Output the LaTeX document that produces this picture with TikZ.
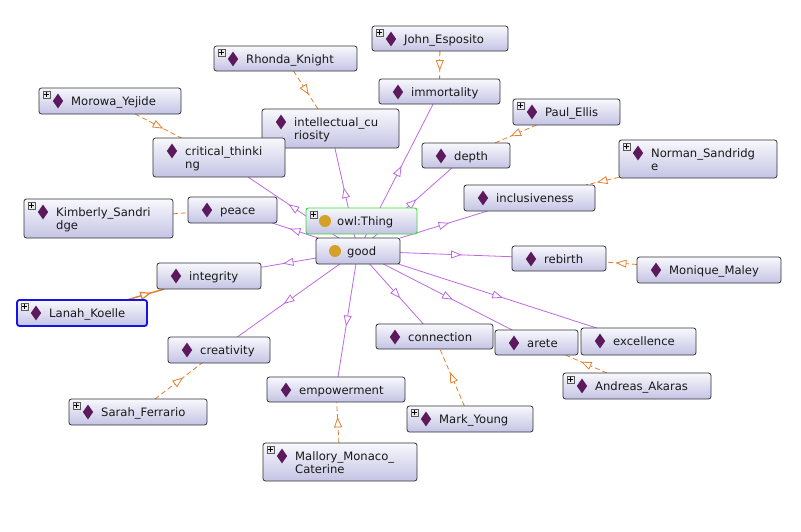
\documentclass[tikz,border=0pt]{standalone}
\usepackage{fontspec}
\setmainfont{DejaVu Sans}
\usetikzlibrary{shapes.geometric,decorations.markings}
\pgfdeclarelayer{bg}
\pgfdeclarelayer{edges}
\pgfsetlayers{bg,edges,main}
\definecolor{pcol}{RGB}{190,105,228}
\definecolor{ocol}{RGB}{230,128,48}
\definecolor{boxtop}{RGB}{248,248,253}
\definecolor{boxbot}{RGB}{196,196,228}
\definecolor{boxborder}{RGB}{50,50,55}
\definecolor{diamcol}{RGB}{92,26,92}
\definecolor{goldcol}{RGB}{212,160,42}
\definecolor{selgreen}{RGB}{50,220,50}
\definecolor{selblue}{RGB}{20,20,230}
\tikzset{
  box/.style={draw=boxborder, rounded corners=2.5pt, top color=boxtop, bottom color=boxbot, line width=0.8pt, inner sep=0pt, outer sep=0pt},
  lbl/.style={anchor=base west, inner sep=0pt, font=\fontsize{11.6}{13}\selectfont, text=black!90},
  diam/.style={diamond, fill=diamcol, inner sep=0pt, minimum width=10.5pt, minimum height=15pt},
  gcirc/.style={circle, fill=goldcol, inner sep=0pt, minimum size=12pt},
  plusbox/.style={draw=black!65, fill=black!8, inner sep=0pt, minimum size=7pt, line width=0.4pt,
    path picture={\draw[black,line width=0.6pt] ([xshift=1.3pt]path picture bounding box.west) -- ([xshift=-1.3pt]path picture bounding box.east) ([yshift=-1.3pt]path picture bounding box.north) -- ([yshift=1.3pt]path picture bounding box.south);}},
  pedge/.style={draw=pcol, line width=0.8pt, postaction={decorate},
    decoration={markings, mark=at position 0.5 with {\draw[pcol,solid,fill=white,line width=0.8pt] (4.5pt,0) -- (-4.5pt,3.5pt) -- (-4.5pt,-3.5pt) -- cycle;}}},
  oedge/.style={draw=ocol, line width=0.8pt, dash pattern=on 5pt off 3pt, postaction={decorate},
    decoration={markings, mark=at position 0.5 with {\draw[ocol,solid,fill=white,line width=0.8pt] (4.5pt,0) -- (-4.5pt,3.5pt) -- (-4.5pt,-3.5pt) -- cycle;}}},
  oplain/.style={draw=ocol, line width=0.8pt, dash pattern=on 5pt off 3pt},
  oseledge/.style={draw=ocol, line width=1.5pt, postaction={decorate},
    decoration={markings, mark=at position 0.5 with {\draw[ocol,solid,fill=white,line width=1.2pt] (4.5pt,0) -- (-4.5pt,3.5pt) -- (-4.5pt,-3.5pt) -- cycle;}}},
}
\newcommand\mkbox[6][]{%
  \pgfmathsetmacro\BXw{#5-#3}%
  \pgfmathsetmacro\BXh{#6-#4}%
  \pgfmathsetmacro\BXx{(#3+#5)/2}%
  \pgfmathsetmacro\BXy{-(#4+#6)/2}%
  \node[box,minimum width=\BXw pt,minimum height=\BXh pt,#1] (#2) at (\BXx pt,\BXy pt) {};}
\newcommand\indiv[3]{%
  \node[diam] (#1-d) at ([shift={(19pt,-13pt)}]#1.north west) {};
  \node[lbl] (#1-t) at ([shift={(32pt,-17pt)}]#1.north west) {#2};
  \if\relax\detokenize{#3}\relax\else
  \node[lbl] (#1-u) at ([shift={(32pt,-30pt)}]#1.north west) {#3};\fi}
\newcommand\klass[2]{%
  \node[gcirc] (#1-c) at ([shift={(19pt,-13pt)}]#1.north west) {};
  \node[lbl] (#1-t) at ([shift={(31pt,-17pt)}]#1.north west) {#2};}
\newcommand\plusicon[1]{%
  \node[plusbox] (#1-p) at ([shift={(7.5pt,-6.5pt)}]#1.north west) {};}
\begin{document}
\begin{tikzpicture}
\begin{pgfonlayer}{bg}
\fill[white] (0pt,0pt) rectangle (801pt,-531pt);
\end{pgfonlayer}
\useasboundingbox (0pt,0pt) rectangle (801pt,-531pt);

% boxes
\mkbox{JE}{372}{26}{508}{51}      \indiv{JE}{John\_Esposito}{}       \plusicon{JE}
\mkbox{RK}{214}{46}{357}{71}      \indiv{RK}{Rhonda\_Knight}{}       \plusicon{RK}
\mkbox{imm}{379}{79}{500}{104}    \indiv{imm}{immortality}{}
\mkbox{PE}{513}{99}{620}{125}     \indiv{PE}{Paul\_Ellis}{}          \plusicon{PE}
\mkbox{MY}{39}{88}{181}{114}      \indiv{MY}{Morowa\_Yejide}{}       \plusicon{MY}
\mkbox{ic}{262}{109}{399}{148}    \indiv{ic}{intellectual\_cu}{riosity}
\mkbox{ct}{153}{138}{285}{177}    \indiv{ct}{critical\_thinki}{ng}
\mkbox{dep}{422}{143}{510}{168}   \indiv{dep}{depth}{}
\mkbox{NS}{619}{140}{777}{178}    \indiv{NS}{Norman\_Sandridg}{e}    \plusicon{NS}
\mkbox{inc}{464}{185}{595}{211}   \indiv{inc}{inclusiveness}{}
\mkbox[draw=selgreen,line width=0.9pt]{thing}{306}{208}{417}{234} \klass{thing}{owl:Thing} \plusicon{thing}
\mkbox{peace}{188}{197}{277}{223} \indiv{peace}{peace}{}
\mkbox{KS}{24}{199}{173}{238}     \indiv{KS}{Kimberly\_Sandri}{dge}  \plusicon{KS}
\mkbox{good}{316}{238}{400}{264}  \klass{good}{good}
\mkbox{reb}{512}{246}{606}{271}   \indiv{reb}{rebirth}{}
\mkbox{MM}{637}{257}{781}{283}    \indiv{MM}{Monique\_Maley}{}
\mkbox{integ}{157}{263}{261}{289} \indiv{integ}{integrity}{}
\mkbox[draw=selblue,line width=1.8pt]{LK}{17}{300}{147}{326} \indiv{LK}{Lanah\_Koelle}{} \plusicon{LK}
\mkbox{cre}{168}{337}{270}{363}   \indiv{cre}{creativity}{}
\mkbox{con}{376}{324}{493}{349}   \indiv{con}{connection}{}
\mkbox{are}{495}{330}{578}{355}   \indiv{are}{arete}{}
\mkbox{exc}{581}{328}{696}{355}   \indiv{exc}{excellence}{}
\mkbox{AA}{563}{373}{711}{399}    \indiv{AA}{Andreas\_Akaras}{}      \plusicon{AA}
\mkbox{emp}{267}{377}{405}{402}   \indiv{emp}{empowerment}{}
\mkbox{MYo}{407}{406}{533}{432}   \indiv{MYo}{Mark\_Young}{}         \plusicon{MYo}
\mkbox{SF}{69}{399}{207}{425}     \indiv{SF}{Sarah\_Ferrario}{}      \plusicon{SF}
\mkbox{MMC}{263}{443}{417}{481}   \indiv{MMC}{Mallory\_Monaco\_}{Caterine} \plusicon{MMC}

% connectors
\begin{pgfonlayer}{edges}
\foreach \t in {ct,ic,imm,dep,inc,peace,reb,integ,cre,emp,con,are,exc}
  \draw[pedge] (good) -- (\t);
\draw[oedge] (MY) -- (ct);
\draw[oedge] (RK) -- (ic);
\draw[oedge] (JE) -- (imm);
\draw[oedge] (PE) -- (dep);
\draw[oedge] (NS) -- (inc);
\draw[oplain] (KS) -- (peace);
\draw[oseledge] (LK) -- (integ);
\draw[oedge] (SF) -- (cre);
\draw[oedge] (MMC) -- (emp);
\draw[oedge] (MYo) -- (con);
\draw[oedge] (AA) -- (are);
\draw[oedge] (MM) -- (reb);
\end{pgfonlayer}
\end{tikzpicture}
\end{document}
